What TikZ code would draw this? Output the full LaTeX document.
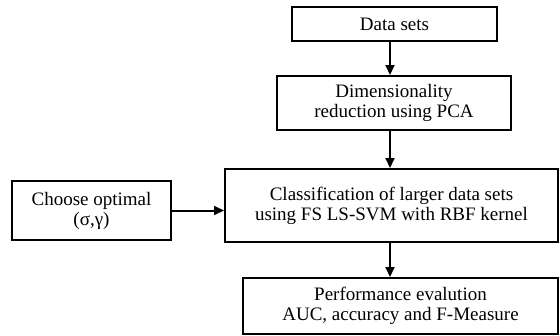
\documentclass[tikz,border=0pt]{standalone}
\usepackage{fontspec}
\setmainfont{Liberation Serif}
\usetikzlibrary{arrows.meta}
\begin{document}
\begin{tikzpicture}[x=1pt,y=-1pt,
  box/.style={draw, line width=2pt, align=center, inner sep=0pt,
    font=\fontsize{19}{20}\selectfont},
  conn/.style={line width=2pt, -{Triangle[length=10pt,width=9pt]}}]
\useasboundingbox (0,0) rectangle (560,335);
\node[box, minimum width=205pt, minimum height=34pt] (ds) at (394.5,24) {Data sets};
\node[box, minimum width=234pt, minimum height=54pt] (dim) at (394,103) {Dimensionality\\reduction using PCA};
\node[box, minimum width=333pt, minimum height=73pt] (cls) at (391.5,205.5) {Classification of larger data sets\\using FS LS-SVM with RBF kernel};
\node[box, minimum width=159pt, minimum height=59pt] (opt) at (91.5,210.5) {Choose optimal\\(σ,γ)};
\node[box, minimum width=315pt, minimum height=56pt] (perf) at (400.5,306) {Performance evalution\\AUC, accuracy and F-Measure};
\coordinate (ax) at (390,0);
\draw[conn] (ds.south -| ax) -- (dim.north -| ax);
\draw[conn] (dim.south -| ax) -- (cls.north -| ax);
\draw[conn] (cls.south -| ax) -- (perf.north -| ax);
\draw[conn] (opt.east) -- (opt.east -| cls.west);
\end{tikzpicture}
\end{document}
